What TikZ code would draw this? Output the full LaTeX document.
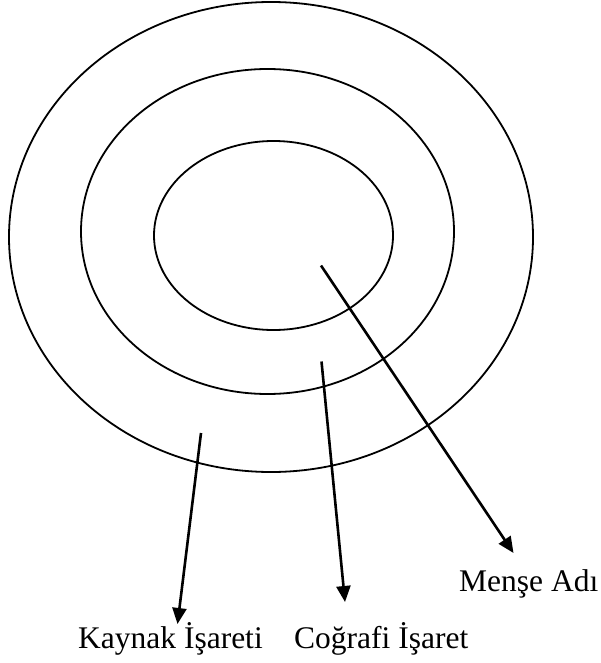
\documentclass[tikz,border=0pt]{standalone}
\usepackage{fontspec}
\setmainfont{Liberation Serif}
\usetikzlibrary{arrows.meta}

\begin{document}
\begin{tikzpicture}[x=1pt,y=-1pt]
		\tikzstyle{every node}=[font=\fontsize{31.5pt}{38pt}\selectfont, inner sep=0pt]
		\tikzstyle{ring}=[line width=1.8pt]
		\tikzstyle{pointer}=[line width=2.6pt, -{Triangle[length=16pt,width=14pt]}]
		
		\useasboundingbox (0,0) rectangle (601,663);
		
		\draw [ring] (271,237) ellipse [x radius=262, y radius=235];
		\draw [ring] (267.5,231.5) ellipse [x radius=186.5, y radius=162.5];
		\draw [ring] (273.5,235.5) ellipse [x radius=119.5, y radius=94.5];
		
		\node (kaynak) [anchor=base west] at (78,648) {Kaynak İşareti};
		\node (cografi) [anchor=base west] at (294,648) {Coğrafi İşaret};
		\node (mense) [anchor=base west] at (459,591.5) {Menşe Adı};
		
		\coordinate (kaynakstart) at (201,433);
		\coordinate (kaynaktip) at (177.5,624);
		\coordinate (cografistart) at (321.5,361.5);
		\coordinate (cografitip) at (345,602);
		\coordinate (mensestart) at (321,265.5);
		\coordinate (mensetip) at (513.5,553);
		
		\draw [pointer] (kaynakstart) -- (kaynaktip);
		\draw [pointer] (cografistart) -- (cografitip);
		\draw [pointer] (mensestart) -- (mensetip);
		
	\end{tikzpicture}
\end{document}
